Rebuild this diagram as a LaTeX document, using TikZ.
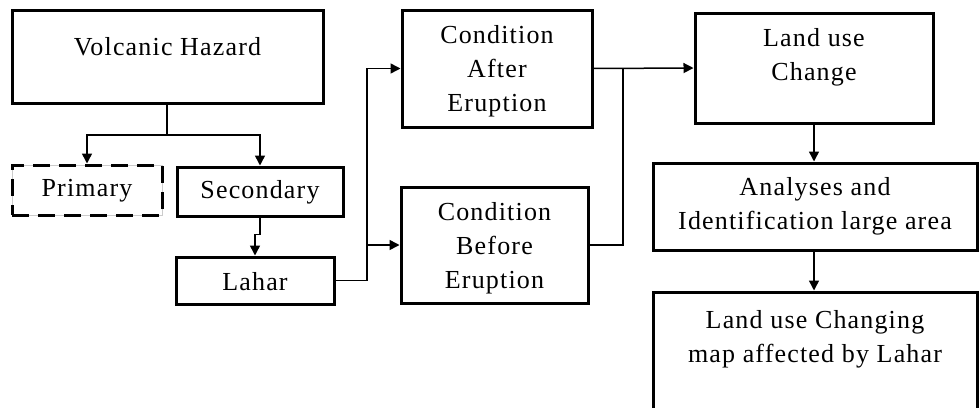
\documentclass[tikz,border=0pt]{standalone}
\usepackage{fontspec}
\setmainfont{Liberation Serif}[LetterSpace=4.5]
\usetikzlibrary{arrows.meta}
\begin{document}
\begin{tikzpicture}[x=1pt,y=-1pt,
  box/.style={draw=black, line width=3pt, rectangle, inner sep=0pt},
  dbox/.style={draw=black, line width=3pt, rectangle, inner sep=0pt, dash pattern=on 17pt off 9pt},
  txt/.style={align=center, inner sep=0pt, font=\fontsize{26}{34}\selectfont},
  conn/.style={draw=black, line width=1.5pt},
  arr/.style={conn, -{Triangle[length=10pt,width=10pt]}}]
\useasboundingbox (0,0) rectangle (979,407);
\clip (0,0) rectangle (979,407);
% boxes
\node[box, minimum width=311pt, minimum height=93pt] (vh) at (167.5,56.5) {};
\node[draw=black!20, line width=0.6pt, minimum width=150pt, minimum height=50pt, inner sep=0pt] (primbg) at (87,190) {};
\node[dbox, minimum width=150pt, minimum height=50pt] (prim) at (87,190) {};
\node[box, minimum width=166pt, minimum height=49pt] (sec) at (260,191.5) {};
\node[box, minimum width=158pt, minimum height=47pt] (lah) at (255,280.5) {};
\node[box, minimum width=190pt, minimum height=117pt] (aft) at (497,68.5) {};
\node[box, minimum width=187pt, minimum height=116pt] (bef) at (494.5,245) {};
\node[box, minimum width=238pt, minimum height=110pt] (luc) at (814,68) {};
\node[box, minimum width=324pt, minimum height=87pt] (ana) at (815,206.5) {};
\node[box, minimum width=324pt, minimum height=123pt] (fin) at (815,353.5) {};
% texts
\node[txt] (tvh) at (167.5,47) {Volcanic Hazard};
\node[txt] (tprim) at (87,191) {Primary};
\node[txt] (tsec) at (260,192) {Secondary};
\node[txt] (tlah) at (255,282) {Lahar};
\node[txt] (taft) at (497,71) {Condition\\After\\Eruption};
\node[txt] (tbef) at (494.5,248) {Condition\\Before\\Eruption};
\node[txt] (tluc) at (814,57) {Land use\\Change};
\node[txt] (tana) at (815,206) {Analyses and\\Identification large area};
\node[txt] (tfin) at (815,339) {Land use Changing\\map affected by Lahar};
% junction coordinates
\coordinate (j1) at (167,135);
\coordinate (j2) at (367,280.5);
\coordinate (j3) at (623,245);
% connectors
\draw[conn] (vh.south -| j1) -- (j1);
\draw[arr] (j1) -| (prim.north);
\draw[arr] (j1) -| (sec.north);
\draw[arr] (sec.south) -- ++(0,17) -| (lah.north);
\draw[conn] (lah.east) -- (j2);
\draw[arr] (j2) |- (aft.west);
\draw[arr] (j2 |- bef.west) -- (bef.west);
\draw[arr] (aft.east) -- (luc.west);
\draw[conn] (bef.east) -- (j3) -- (j3 |- aft.east);
\draw[arr] (luc.south) -- (ana.north -| luc.south);
\draw[arr] (ana.south -| luc.south) -- (fin.north -| luc.south);
\end{tikzpicture}
\end{document}
